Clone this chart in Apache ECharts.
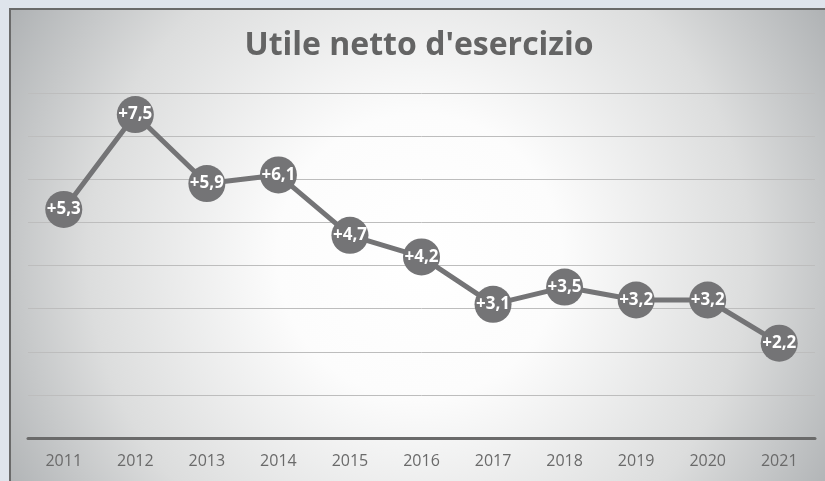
<!DOCTYPE html>
<html>
<head>
<meta charset="utf-8">
<script src="https://cdn.jsdelivr.net/npm/echarts@6/dist/echarts.min.js"></script>
<style>
  html, body { margin: 0; padding: 0; background: #dfe4ec; }
  #main {
    position: absolute; left: 9px; top: 8px;
    width: 816px; height: 473px;
    border-top: 2px solid #6a6a6a; border-left: 2px solid #6a6a6a;
  }
</style>
</head>
<body>
<div id="main"></div>
<script>
var years = ['2011', '2012', '2013', '2014', '2015', '2016', '2017', '2018', '2019', '2020', '2021']
var utile = [5.3, 7.5, 5.9, 6.1, 4.7, 4.2, 3.1, 3.5, 3.2, 3.2, 2.2]

var myChart = echarts.init(document.getElementById('main'))
var option = {
  backgroundColor: {
    type: 'radial', x: 0.5, y: 0.52, r: 1.0,
    colorStops: [
      { offset: 0, color: '#ffffff' },
      { offset: 0.3, color: '#fcfcfc' },
      { offset: 0.7, color: '#dcdddd' },
      { offset: 1, color: '#b0b3b5' }
    ]
  },
  title: {
    text: "Utile netto d'esercizio",
    left: 'center',
    top: 15,
    textStyle: { fontFamily: 'Open Sans', fontWeight: 'bold', fontSize: 32, color: '#646464' }
  },
  grid: { left: 17, right: 12, top: 83, bottom: 45 },
  xAxis: {
    type: 'category',
    data: years,
    boundaryGap: true,
    axisLine: { lineStyle: { color: '#6a6a6a', width: 3 } },
    axisTick: { show: false },
    axisLabel: { color: '#6a6a6a', fontSize: 16, fontFamily: 'Open Sans', margin: 15 }
  },
  yAxis: {
    type: 'value',
    min: 0, max: 8, interval: 1,
    axisLabel: { show: false },
    axisLine: { show: false },
    axisTick: { show: false },
    splitLine: { lineStyle: { color: '#bdbdbd', width: 1 } }
  },
  series: [{
    name: 'Utile',
    type: 'line',
    data: utile,
    symbol: 'circle',
    symbolSize: 37,
    lineStyle: { color: '#747476', width: 5 },
    itemStyle: { color: '#747476' },
    label: {
      show: true,
      position: 'inside',
      color: '#ffffff',
      fontWeight: 'bold',
      fontSize: 17,
      fontFamily: 'Open Sans',
      formatter: function (p) { return '+' + p.value.toFixed(1).replace('.', ',') }
    },
    z: 3
  }]
}
myChart.setOption(option)
</script>
</body>
</html>
